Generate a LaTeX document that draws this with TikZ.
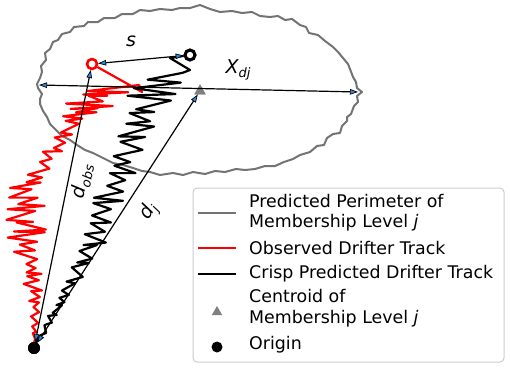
\documentclass[tikz,border=0pt]{standalone}
\usepackage{fontspec}
\setmainfont{DejaVu Sans}
\usetikzlibrary{arrows.meta,shapes.geometric}
\definecolor{arrowblue}{RGB}{40,140,230}
\definecolor{perim}{RGB}{115,115,115}
\definecolor{legbox}{RGB}{204,204,204}
\definecolor{centgray}{RGB}{128,128,128}
\begin{document}
\begin{tikzpicture}[x=1pt,y=-1pt,
  tipb/.tip={Triangle[length=8pt,width=5.5pt,fill=arrowblue,line width=0.7pt]},
  dim/.style={line width=1.2pt, tipb-tipb},
  lbl/.style={font=\fontsize{19}{19}\selectfont\itshape, inner sep=0pt},
  legtext/.style={anchor=west, font=\fontsize{17.4}{20.5}\selectfont, inner sep=0pt, align=left},
  track/.style={line width=2.2pt, line join=round},
  cent/.style={regular polygon, regular polygon sides=3, fill=centgray, inner sep=0pt, minimum size=13pt},
  orig/.style={circle, fill=black, inner sep=0pt, minimum size=12pt}]
\useasboundingbox (0,0) rectangle (510,367);
% perimeter
\draw[perim, line width=2pt, line join=round]
 (37,84) -- (40,78) -- (42,72) -- (41,66) -- (46,60) -- (45,53) -- (50,49) -- (53,42) -- (58,40) -- (62,34)
 -- (70,32) -- (74,27) -- (84,26) -- (88,22) -- (98,22) -- (104,18) -- (115,18) -- (122,14) -- (133,14)
 -- (140,10) -- (150,11) -- (160,9) -- (172,10) -- (180,8) -- (190,8) -- (200,5) -- (210,9) -- (220,12)
 -- (232,11) -- (242,13) -- (252,12) -- (260,16) -- (270,17) -- (278,16) -- (285,20) -- (292,19)
 -- (300,25) -- (306,27) -- (309,33) -- (318,35) -- (325,41) -- (333,47) -- (338,52) -- (343,58)
 -- (348,64) -- (350,69) -- (353,77) -- (356,82) -- (357,88) -- (362,92) -- (357,96) -- (358,102)
 -- (354,106) -- (351,114) -- (347,117) -- (347,121) -- (342,126) -- (340,133) -- (333,134)
 -- (327,138) -- (324,145) -- (317,146) -- (310,152) -- (300,155) -- (293,159) -- (284,162)
 -- (275,166) -- (265,166) -- (255,169) -- (245,170) -- (236,169) -- (225,172) -- (215,171)
 -- (205,174) -- (193,172) -- (183,175) -- (173,173) -- (160,175) -- (150,172) -- (142,171)
 -- (133,168) -- (123,165) -- (113,163) -- (103,158) -- (93,153) -- (85,150) -- (77,145)
 -- (70,140) -- (62,136) -- (56,130) -- (50,124) -- (47,117) -- (43,111) -- (40,104) -- (40,99)
 -- (42,94) -- (38,88) -- cycle;
% markers as nodes
\node[orig] (origin) at (34,348) {};
\node[circle, draw=red, line width=2.3pt, inner sep=0pt, minimum size=10pt] (obsend) at (92,64) {};
\node[circle, draw=black, line width=2.8pt, inner sep=0pt, minimum size=10pt] (crispend) at (190,55) {};
\node[cent] (centroid) at (200,91) {};
\coordinate (perimL) at (39,85);
\coordinate (perimR) at (358,92);
% observed track
\pgfmathsetseed{11}
\draw[red, track] (origin.center)
 \foreach \xa/\ya/\xb/\yb/\ampa/\ampb/\nz in {34/348/36/305/1/6/10, 36/305/28/235/8/22/18, 28/235/26/185/22/20/14, 26/185/55/150/12/8/8, 55/150/75/118/6/12/8, 75/118/108/88/20/34/14}{
   \foreach \i in {1,...,\nz}{
     -- ({\xa+(\xb-\xa)*\i/\nz+(\ampa+(\ampb-\ampa)*\i/\nz)*(0.25+0.75*rnd)*cos(180*\i)}, {\ya+(\yb-\ya)*\i/\nz+6*(rnd-0.5)})
   }
 } -- (142,92) -- (obsend);
% crisp predicted track
\pgfmathsetseed{5}
\draw[black, track] (origin.center)
 \foreach \xa/\ya/\xb/\yb/\ampa/\ampb/\nz in {36/346/62/300/1/6/12, 62/300/92/240/6/14/14, 92/240/115/180/14/17/12, 115/180/137/130/17/22/10, 137/130/163/72/22/30/12}{
   \foreach \i in {1,...,\nz}{
     -- ({\xa+(\xb-\xa)*\i/\nz+(\ampa+(\ampb-\ampa)*\i/\nz)*(0.3+0.7*rnd)*cos(180*\i)}, {\ya+(\yb-\ya)*\i/\nz+7*(rnd-0.5)})
   }
 } -- (190,70) -- (170,58) -- (crispend);
% redraw markers on top
\node[orig] at (origin) {};
\node[circle, draw=red, line width=2.3pt, inner sep=0pt, minimum size=10pt] at (obsend) {};
\node[circle, draw=black, line width=2.8pt, inner sep=0pt, minimum size=10pt] at (crispend) {};
\node[cent] at (centroid) {};
% dimension arrows
\draw[dim] (perimL) -- (perimR);
\draw[dim] (crispend) -- (obsend);
\draw[dim] (origin) -- (obsend);
\draw[dim] (origin) -- (centroid);
% labels
\node[lbl] (slabel) at (131,41) {s};
\node[lbl] (xlabel) at (238,70) {X\raisebox{-4pt}{\fontsize{13}{13}\selectfont dj}};
\node[lbl, rotate=78.5] (dobslabel) at (82,181) {d\raisebox{-4pt}{\fontsize{13}{13}\selectfont obs}};
\node[lbl, rotate=57.5] (djlabel) at (149,212) {d\raisebox{-4pt}{\fontsize{13}{13}\selectfont j}};
% legend
\draw[legbox, line width=1pt, rounded corners=4pt, fill=white] (193,188) rectangle (504,362);
\draw[perim, line width=2pt] (198,213) -- (236,213);
\node[legtext] (leg1) at (249,212.5) {Predicted Perimeter of\\Membership Level \textit{j}};
\draw[red, line width=2pt] (198,248) -- (236,248);
\node[legtext] (leg2) at (249,248) {Observed Drifter Track};
\draw[black, line width=2pt] (198,274) -- (236,274);
\node[legtext] (leg3) at (249,274) {Crisp Predicted Drifter Track};
\node[cent, minimum size=12pt] (legtri) at (217,312) {};
\node[legtext] (leg4) at (249,308) {Centroid of\\Membership Level \textit{j}};
\node[orig, minimum size=11pt] (legdot) at (217,347) {};
\node[legtext] (leg5) at (249,345) {Origin};
\end{tikzpicture}
\end{document}
